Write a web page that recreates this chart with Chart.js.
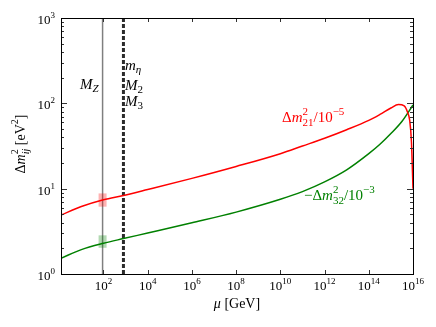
<!DOCTYPE html>
<html>
<head>
<meta charset="utf-8">
<script src="https://cdn.jsdelivr.net/npm/chart.js@4"></script>
<style>
    html, body { margin: 0; padding: 0; background: #fff; }
    canvas { display: block; }
</style>
</head>
<body>
<canvas id="runningChart" width="436" height="327"></canvas>
<script>
// energy scale mu [GeV] and running values
const muRed = [1.2, 10, 100, 800, 1e4, 1e6, 1e8, 1e10, 1e11, 1e12, 1e13, 1e14, 3.2e14, 1e15, 2.2e15, 4e15, 5.6e15, 7.1e15, 8.5e15, 1e16];
const dm21 = [4.9, 6.17, 7.41, 8.32, 9.77, 13.2, 18.2, 25.7, 31.6, 38.9, 49.0, 63.1, 74.1, 88.1, 96.6, 93.3, 79.4, 63.1, 35.5, 10];

const muGreen = [1.2, 10, 100, 800, 1e4, 1e6, 1e8, 1e10, 1e11, 1e12, 1e13, 1e14, 3.2e14, 1e15, 3.2e15, 1e16];
const dm32 = [1.53, 1.93, 2.29, 2.6, 3.02, 3.98, 5.31, 7.5, 9.23, 12.0, 16.6, 25.7, 33.1, 44.2, 61.7, 95.5];

// experimental bands at M_Z
const mZ = 91.19;
const band21 = [6.15, 8.8];
const band32 = [2.03, 2.84];

// threshold line (m_eta, M_2, M_3)
const mThreshold = 800;

const xTickExps = [2, 4, 6, 8, 10, 12, 14, 16];
const yTickExps = [0, 1, 2, 3];

const SERIF = '"Liberation Serif", "DejaVu Serif", serif';

const toPoints = (xs, ys) => xs.map((x, i) => ({ x: x, y: ys[i] }));

function runFont(r, size) {
    return (r.it ? 'italic ' : '') + Math.round(size * (r.s || 1)) + 'px ' + SERIF;
}

// draw a small math-like string made of runs (sub/superscripts)
function drawRuns(ctx, x, y, runs, size, color, align) {
    let cx = 0, hold = 0;
    const placed = [];
    for (const r of runs) {
        ctx.font = runFont(r, size);
        const w = ctx.measureText(r.t).width;
        placed.push({ r: r, x: cx });
        if (r.over) {
            hold = w;
        } else {
            cx += Math.max(w, hold);
            hold = 0;
        }
    }
    const off = align === 'center' ? -cx / 2 : (align === 'right' ? -cx : 0);
    ctx.fillStyle = color;
    ctx.textBaseline = 'alphabetic';
    ctx.textAlign = 'left';
    for (const p of placed) {
        ctx.font = runFont(p.r, size);
        ctx.fillText(p.r.t, x + off + p.x, y + (p.r.dy || 0));
    }
}

const tenTo = (e) => [{ t: '10' }, { t: String(e), s: 0.7, dy: -6 }];

const axesPlugin = {
    id: 'axesPlugin',
    afterDraw(chart) {
        const ctx = chart.ctx;
        const a = chart.chartArea;
        const xs = chart.scales.x;
        const ys = chart.scales.y;
        ctx.save();

        // ticks, inward on all sides
        ctx.strokeStyle = '#333';
        ctx.lineWidth = 1;
        ctx.beginPath();
        for (const e of xTickExps) {
            const px = Math.round(xs.getPixelForValue(Math.pow(10, e))) + 0.5;
            ctx.moveTo(px, a.bottom); ctx.lineTo(px, a.bottom - 4);
            ctx.moveTo(px, a.top); ctx.lineTo(px, a.top + 4);
        }
        for (let d = 0; d <= 3; d++) {
            for (let k = 1; k <= 9; k++) {
                const v = k * Math.pow(10, d);
                if (v > 1000) break;
                const py = Math.round(ys.getPixelForValue(v)) + 0.5;
                const len = k === 1 ? 6 : 3;
                ctx.moveTo(a.left, py); ctx.lineTo(a.left + len, py);
                ctx.moveTo(a.right, py); ctx.lineTo(a.right - len, py);
            }
        }
        ctx.stroke();

        // frame
        ctx.strokeStyle = '#000';
        ctx.strokeRect(Math.round(a.left) + 0.5, Math.round(a.top) + 0.5,
            Math.round(a.right - a.left), Math.round(a.bottom - a.top));

        // tick labels
        for (const e of xTickExps) {
            const px = xs.getPixelForValue(Math.pow(10, e));
            drawRuns(ctx, px, a.bottom + 16, tenTo(e), 13, '#000', 'center');
        }
        for (const e of yTickExps) {
            const py = ys.getPixelForValue(Math.pow(10, e));
            drawRuns(ctx, a.left - 6, py + 6, tenTo(e), 13, '#000', 'right');
        }

        // axis titles
        drawRuns(ctx, (a.left + a.right) / 2, 308,
            [{ t: 'μ', it: true }, { t: ' [GeV]' }], 14, '#000', 'center');

        ctx.save();
        ctx.translate(25, 144);
        ctx.rotate(-Math.PI / 2);
        drawRuns(ctx, 0, 0, [
            { t: 'Δ' }, { t: 'm', it: true },
            { t: '2', s: 0.7, dy: -7, over: true }, { t: 'ij', it: true, s: 0.7, dy: 4 },
            { t: ' [eV' }, { t: '2', s: 0.7, dy: -7 }, { t: ']' }
        ], 14, '#000', 'center');
        ctx.restore();

        // annotations
        drawRuns(ctx, 80, 89, [{ t: 'M', it: true }, { t: 'Z', it: true, s: 0.7, dy: 3 }], 15, '#000');
        drawRuns(ctx, 125, 70, [{ t: 'm', it: true }, { t: 'η', it: true, s: 0.7, dy: 3 }], 15, '#000');
        drawRuns(ctx, 125, 90, [{ t: 'M', it: true }, { t: '2', s: 0.7, dy: 3 }], 15, '#000');
        drawRuns(ctx, 125, 106, [{ t: 'M', it: true }, { t: '3', s: 0.7, dy: 3 }], 15, '#000');

        drawRuns(ctx, 282, 122, [
            { t: 'Δ' }, { t: 'm', it: true },
            { t: '2', s: 0.7, dy: -7, over: true }, { t: '21', s: 0.7, dy: 4 },
            { t: '/10' }, { t: '−5', s: 0.7, dy: -7 }
        ], 15, '#ff0000');
        drawRuns(ctx, 304, 200, [
            { t: '−Δ' }, { t: 'm', it: true },
            { t: '2', s: 0.7, dy: -7, over: true }, { t: '32', s: 0.7, dy: 4 },
            { t: '/10' }, { t: '−3', s: 0.7, dy: -7 }
        ], 15, '#008000');

        ctx.restore();
    }
};

new Chart(document.getElementById('runningChart'), {
    type: 'line',
    data: {
        datasets: [
            {
                data: toPoints(muRed, dm21),
                borderColor: '#ff0000',
                borderWidth: 1.5,
                cubicInterpolationMode: 'monotone'
            },
            {
                data: toPoints(muGreen, dm32),
                borderColor: '#008000',
                borderWidth: 1.5,
                cubicInterpolationMode: 'monotone'
            },
            {
                data: toPoints([mZ, mZ], band21),
                borderColor: 'rgba(255,0,0,0.3)',
                borderWidth: 8,
                borderCapStyle: 'butt'
            },
            {
                data: toPoints([mZ, mZ], band32),
                borderColor: 'rgba(0,128,0,0.3)',
                borderWidth: 8,
                borderCapStyle: 'butt'
            },
            {
                data: toPoints([mThreshold, mThreshold], [1, 1000]),
                borderColor: '#2b2b2b',
                borderWidth: 3,
                borderDash: [4, 2],
                borderCapStyle: 'butt'
            },
            {
                data: toPoints([mZ, mZ], [1, 1000]),
                borderColor: '#7f7f7f',
                borderWidth: 1.5
            }
        ]
    },
    options: {
        responsive: false,
        devicePixelRatio: 1,
        animation: false,
        layout: {
            padding: { left: 61, right: 23, top: 18, bottom: 53 }
        },
        elements: {
            point: { radius: 0 }
        },
        plugins: {
            legend: { display: false },
            tooltip: { enabled: false }
        },
        scales: {
            x: {
                type: 'logarithmic',
                display: false,
                min: 1.2,
                max: 1e16
            },
            y: {
                type: 'logarithmic',
                display: false,
                min: 1,
                max: 1000
            }
        }
    },
    plugins: [axesPlugin]
});
</script>
</body>
</html>
